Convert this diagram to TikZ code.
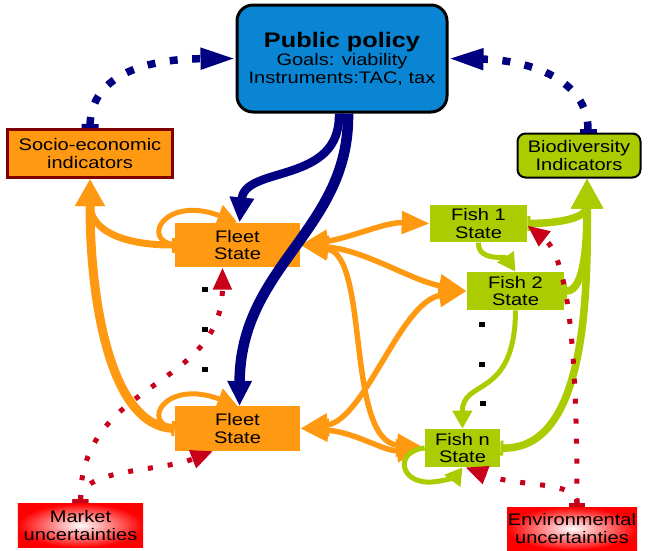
\documentclass[tikz,border=0pt]{standalone}
\usepackage{fontspec}
\setmainfont{Liberation Sans}[FakeStretch=1.2]
\usetikzlibrary{arrows.meta}
\definecolor{policyblue}{HTML}{0A85D3}
\definecolor{navyline}{HTML}{000080}
\definecolor{fleetorange}{HTML}{FF9912}
\definecolor{fishgreen}{HTML}{AACC00}
\definecolor{socioborder}{HTML}{800000}
\definecolor{uncred}{HTML}{C8001A}

\begin{document}
\begin{tikzpicture}[
    x=0.2mm, y=-0.2mm,
    txt/.style={align=center, inner sep=0pt, font=\fontsize{9.5}{10.2}\selectfont},
    fleet/.style={txt, fill=fleetorange, minimum width=25mm, minimum height=8.9mm},
    fish/.style={txt, fill=fishgreen, minimum width=19.4mm, minimum height=7.5mm},
    uncert/.style={txt, inner color=white, outer color=red, minimum height=8.8mm},
    ellipsisdot/.style={fill=black, inner sep=0pt, minimum width=1.2mm, minimum height=1mm},
    bluedots/.style={draw=navyline, line width=1.5mm, dash pattern=on 1.6mm off 2.9mm,
        {Rectangle[length=0.8mm,width=3.4mm]}-{Triangle[length=7mm,width=4mm]}},
    navyarr/.style={draw=navyline, -{Triangle[length=5mm,width=4.6mm]}},
    feed/.style={draw=fleetorange, {Rectangle[length=0.6mm,width=3mm]}-{Triangle[length=5.4mm,width=5.6mm]}},
    harvest/.style={draw=fleetorange, line width=1.1mm,
        {Triangle[length=5.6mm,width=4.4mm]}-{Triangle[length=5.6mm,width=4.4mm]}},
    stock/.style={draw=fishgreen, line width=1.5mm, {Rectangle[length=0.6mm,width=3mm]}-{Triangle[length=6mm,width=6mm]}},
    growth/.style={draw=fishgreen, line width=1mm, -{Triangle[length=3.6mm,width=3.8mm]}},
    selfloop/.style={line width=1mm, -{Triangle[length=4mm,width=4.2mm]}},
    reddots/.style={draw=uncred, line width=1mm, dash pattern=on 1mm off 3mm,
        {Rectangle[length=0.8mm,width=3.2mm]}-{Triangle[length=4.4mm,width=3.6mm]}},
]
\useasboundingbox (0,0) rectangle (652,550);

% boxes
\node[txt, draw, line width=0.6mm, rounded corners=3.2mm, fill=policyblue,
      minimum width=42mm, minimum height=21.4mm] (policy) at (342,58.5)
    {{\fontsize{12}{13}\selectfont\bfseries Public policy}\\Goals: viability\\Instruments:TAC, tax};
\node[txt, draw=socioborder, line width=0.6mm, fill=fleetorange,
      minimum width=33mm, minimum height=9.6mm] (socio) at (90,153.5) {Socio-economic\\indicators};
\node[txt, draw, line width=0.4mm, rounded corners=1.6mm, fill=fishgreen,
      minimum width=24.6mm, minimum height=8.8mm] (bio) at (579,155.5) {Biodiversity\\Indicators};

\node[fleet] (fleetA) at (237.5,245) {Fleet\\State};
\node[fleet] (fleetB) at (237.5,428.5) {Fleet\\State};

\node[fish] (fishA) at (478.5,223.5) {Fish 1\\State};
\node[fish, minimum height=7.6mm] (fishB) at (515.5,291) {Fish 2\\State};
\node[fish, minimum width=15mm, minimum height=7.6mm] (fishN) at (462.5,448) {Fish n\\State};

\node[uncert, minimum width=25mm] (market) at (80.5,525.5) {Market\\uncertainties};
\node[uncert, minimum width=26mm, minimum height=8.6mm] (env) at (572,528.5) {Environmental\\uncertainties};

% vertical ellipses between the fleets and between the stocks
\foreach \x/\y [count=\i] in {205/289, 205/329, 205/369, 482/324, 482/364, 483/403}
    \node[ellipsisdot] (dot\i) at (\x,\y) {};

% fleets to socio-economic indicators
\draw[feed, line width=1.4mm] (fleetA.west) .. controls (118,245) and (90,228) .. (socio.south);
\draw[feed, line width=1.8mm] (fleetB.west) .. controls (110,425) and (90,300) .. (socio.south);
\draw[fleetorange, selfloop] (fleetA.west) .. controls (140,240) and (165,195) .. (fleetA.north);
\draw[fleetorange, selfloop] (fleetB.west) .. controls (140,423.5) and (165,378.5) .. (fleetB.north);

% fleets <-> fish stocks
\draw[harvest] (fleetA.east) .. controls (350,238) and (385,222) .. (fishA.west);
\draw[harvest] (fleetA.east) .. controls (365,250) and (410,280) .. (fishB.west);
\draw[harvest] (fleetA.east) .. controls (370,255) and (345,440) .. (fishN.west);
\draw[harvest] (fleetB.east) .. controls (365,420) and (400,302) .. (fishB.west);
\draw[harvest] (fleetB.east) .. controls (355,432) and (385,452) .. (fishN.west);

% stocks to biodiversity indicators
\draw[stock] (fishA.east) .. controls (570,223) and (587,215) .. ([xshift=1.6mm]bio.south);
\draw[stock] (fishB.east) .. controls (585,291) and (587,240) .. ([xshift=1.6mm]bio.south);
\draw[stock] (fishN.east) .. controls (585,450) and (588,300) .. ([xshift=1.6mm]bio.south);

% stock dynamics
\draw[growth] (fishA.south) .. controls (478,262) and (505,256) .. (fishB.north);
\draw[growth] (fishB.south) .. controls (515,400) and (462,378) .. (fishN.north);
\draw[fishgreen, selfloop, -{Triangle[length=3.4mm,width=3.8mm]}] (fishN.west)
    .. controls (395,450) and (398,484) .. (432,482)
    .. controls (446,481) and (456,476) .. (fishN.south);

% uncertainties
\draw[reddots] (market.north) .. controls (80,380) and (222,390) .. ([xshift=-3mm]fleetA.south);
\draw[reddots] (market.north) .. controls (80,468) and (160,472) .. ([xshift=-4.9mm]fleetB.south);
\draw[reddots] ([xshift=1mm]env.north) .. controls (577,480) and (520,488) .. ([xshift=0.6mm]fishN.south);
\draw[reddots] ([xshift=1mm]env.north) .. controls (577,380) and (572,260) .. ([yshift=-0.4mm]fishA.east);

% policy acting on the fleets
\draw[navyarr, line width=1.7mm] ([xshift=-0.6mm]policy.south) .. controls (341,185) and (245,165) .. ([xshift=0.4mm]fleetA.north);
\draw[navyarr, line width=2.1mm] ([xshift=1.2mm]policy.south) .. controls (350,230) and (240,265) .. ([xshift=0.4mm]fleetB.north);

% indicators feeding back to policy
\draw[bluedots] (socio.north) .. controls (91,78) and (140,59) .. (policy.west);
\draw[bluedots] ([xshift=1.8mm]bio.north) .. controls (588,80) and (530,60) .. (policy.east);

\end{tikzpicture}
\end{document}
